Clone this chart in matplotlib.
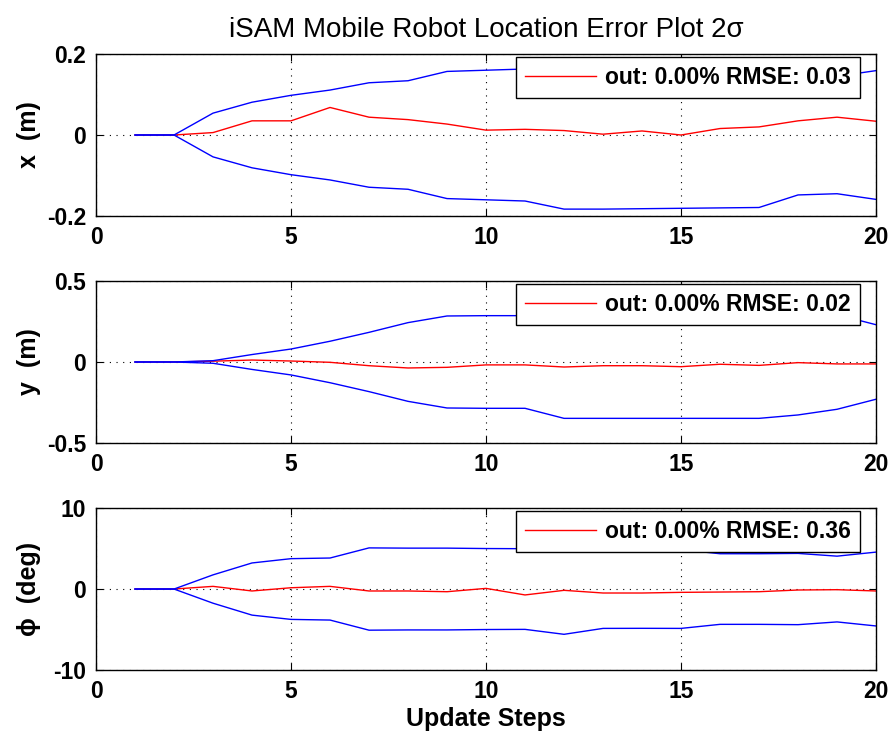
"""
iSAM mobile robot location error plot: estimate error with 2-sigma bounds
for x, y and heading over the update steps.
"""

import matplotlib
matplotlib.use("Agg")
import matplotlib.pyplot as plt

# --- data ---
steps = list(range(1, 21))

x_err = [0, 0, 0.006, 0.035, 0.035, 0.068, 0.044, 0.038, 0.027, 0.012,
         0.014, 0.011, 0.002, 0.010, 0.0, 0.016, 0.020, 0.035, 0.044, 0.034]
x_2sig = [0, 0, 0.054, 0.081, 0.098, 0.111, 0.129, 0.134, 0.157, 0.160,
          0.163, 0.183, 0.183, 0.182, 0.181, 0.180, 0.179, 0.148, 0.145, 0.159]

y_err = [0, 0, 0.005, 0.012, 0.006, -0.002, -0.023, -0.037, -0.033, -0.018,
         -0.018, -0.031, -0.023, -0.023, -0.029, -0.014, -0.021, -0.004, -0.012, -0.012]
y_2sig = [0, 0, 0.008, 0.046, 0.080, 0.128, 0.183, 0.243, 0.284, 0.286,
          0.286, 0.348, 0.348, 0.348, 0.348, 0.348, 0.348, 0.327, 0.292, 0.230]

phi_err = [0, 0, 0.33, -0.24, 0.16, 0.33, -0.24, -0.24, -0.33, 0.08,
           -0.73, -0.16, -0.49, -0.49, -0.41, -0.37, -0.33, -0.12, -0.08, -0.24]
phi_2sig = [0, 0, 1.75, 3.22, 3.75, 3.83, 5.08, 5.05, 5.05, 5.00,
            4.98, 5.59, 4.86, 4.85, 4.86, 4.36, 4.36, 4.40, 4.06, 4.56]

ylabels = ["x  (m)", "y  (m)", "\u03d5  (deg)"]
rmse_labels = ["out: 0.00% RMSE: 0.03", "out: 0.00% RMSE: 0.02", "out: 0.00% RMSE: 0.36"]
ylims = [(-0.2, 0.2), (-0.5, 0.5), (-10, 10)]
yticks = [[-0.2, 0, 0.2], [-0.5, 0, 0.5], [-10, 0, 10]]
yticklabels = [["-0.2", "0", "0.2"], ["-0.5", "0", "0.5"], ["-10", "0", "10"]]
xticks = [0, 5, 10, 15, 20]
xticklabels = ["0", "5", "10", "15", "20"]
title = "iSAM Mobile Robot Location Error Plot 2\u03c3"
xlabel = "Update Steps"

plt.rcParams["font.family"] = ["Liberation Sans", "DejaVu Sans"]
plt.rcParams["axes.unicode_minus"] = False

fig = plt.figure(figsize=(8.94, 7.42), dpi=100)

# axes boxes in figure fraction (left, bottom, width, height)
boxes = [
    (0.1074, 0.7089, 0.8725, 0.2183),
    (0.1074, 0.4030, 0.8725, 0.2183),
    (0.1074, 0.0970, 0.8725, 0.2183),
]

series = [(x_err, x_2sig), (y_err, y_2sig), (phi_err, phi_2sig)]

for i, (err, sig) in enumerate(series):
    ax = fig.add_axes(boxes[i])
    lo = [-s for s in sig]
    ax.plot(steps, err, color="red", lw=1.0, label=rmse_labels[i])
    ax.plot(steps, sig, color="blue", lw=1.0)
    ax.plot(steps, lo, color="blue", lw=1.0)

    ax.set_xlim(0, 20)
    ax.set_ylim(*ylims[i])
    ax.set_xticks(xticks)
    ax.set_xticklabels(xticklabels)
    ax.set_yticks(yticks[i])
    ax.set_yticklabels(yticklabels[i])
    ax.grid(True, color="black", linestyle=(0, (1, 5)), linewidth=0.8)
    ax.tick_params(direction="in", length=5, width=0.8, top=True, right=True,
                   labelsize=16.5, pad=7)
    for lab in ax.get_xticklabels() + ax.get_yticklabels():
        lab.set_fontweight("bold")
    for sp in ax.spines.values():
        sp.set_linewidth(1.0)

    ax.set_ylabel(ylabels[i], fontsize=18, fontweight="bold")
    ax.yaxis.set_label_coords(-0.07, 0.5)

    leg = ax.legend(loc="upper right", bbox_to_anchor=(0.9795, 0.981),
                    borderaxespad=0, fancybox=False, framealpha=1,
                    edgecolor="black", handlelength=3.1, handletextpad=0.4,
                    borderpad=0.4, prop={"size": 16.5, "weight": "bold"})
    leg.get_frame().set_linewidth(1.0)

    if i == 0:
        ax.set_title(title, fontsize=20, pad=12)
    if i == 2:
        ax.set_xlabel(xlabel, fontsize=18, fontweight="bold", labelpad=3)

fig.savefig("out.png", dpi=100)
